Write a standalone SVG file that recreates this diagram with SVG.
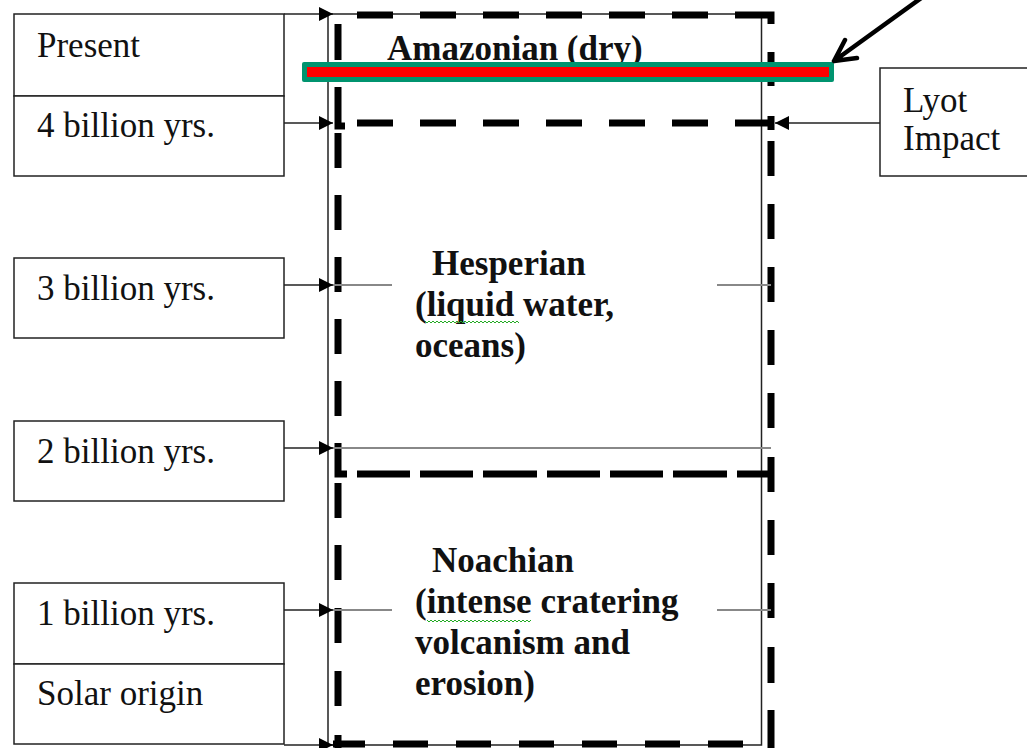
<svg xmlns="http://www.w3.org/2000/svg" width="1027" height="748" viewBox="0 0 1027 748">
<defs>
<style>
.box{fill:#fff;stroke:#222;stroke-width:1.5}
.t{font-family:'Liberation Serif','Times New Roman',serif;font-size:35px;fill:#111}
.b{font-family:'Liberation Serif','Times New Roman',serif;font-size:35px;font-weight:bold;fill:#111}
.thin{fill:none;stroke:#222;stroke-width:1.5}
.grey{fill:none;stroke:#888;stroke-width:2}
.era{fill:none;stroke:#000;stroke-width:7}
.conn{fill:none;stroke:#222;stroke-width:1.5}
.squig{fill:none;stroke:#2a2;stroke-width:1}
</style>
<marker id="ah" viewBox="0 0 14 14" refX="14" refY="7" markerWidth="14" markerHeight="14" markerUnits="userSpaceOnUse" orient="auto">
<path d="M0 0L14 7L0 14z" fill="#000"/>
</marker>
</defs>
<rect width="1027" height="748" fill="#fff"/>

<g id="frame">
<path class="thin" d="M328 14V745H761.5V14H328"/>
</g>

<g id="era-amazonian">
<path class="era" d="M357 15H393M420 15H456M483 15H519M546 15H582M609 15H645M672 15H708M735 15H771V24M338 24V60M338 87V126H345M771 52V86M771 116V130M357 123H393M420 123H456M483 123H519M546 123H582M609 123H645M672 123H708M735 123H771"/>
<text class="b" x="387" y="60">Amazonian (dry)</text>
</g>

<g id="era-hesperian">
<path class="era" d="M338 133V168M338 195V230M338 257V292M338 319V354M338 381V416M338 443V474H347M771 141V176M771 204V239M771 267V302M771 330V365M771 393V428M771 457V492M357 474H410M420 474H473M483 474H537M547 474H600M610 474H663M673 474H727M737 474H771"/>
<text class="b" x="432" y="275">Hesperian</text>
<text class="b" x="415" y="316">(liquid water,</text>
<text class="b" x="415" y="357">oceans)</text>
<path class="squig" d="M425 321l2 2 2-2 2 2 2-2 2 2 2-2 2 2 2-2 2 2 2-2 2 2 2-2 2 2 2-2 2 2 2-2 2 2 2-2 2 2 2-2 2 2 2-2 2 2 2-2 2 2 2-2 2 2 2-2 2 2 2-2 2 2 2-2 2 2 2-2 2 2 2-2 2 2 2-2 2 2 2-2 2 2 2-2 2 2 2-2 2 2 2-2 2 2"/>
</g>

<g id="era-noachian">
<path class="era" d="M338 483V518M338 545V580M338 608V643M338 671V706M338 735V748M771 520V555M771 583V618M771 647V683M771 710V748M333 744H365M393 744H428M456 744H491M519 744H554M582 744H617M645 744H680M708 744H743"/>
<text class="b" x="432" y="572">Noachian</text>
<text class="b" x="415" y="613">(intense cratering</text>
<text class="b" x="415" y="654">volcanism and</text>
<text class="b" x="415" y="695">erosion)</text>
<path class="squig" d="M427 620l2 2 2-2 2 2 2-2 2 2 2-2 2 2 2-2 2 2 2-2 2 2 2-2 2 2 2-2 2 2 2-2 2 2 2-2 2 2 2-2 2 2 2-2 2 2 2-2 2 2 2-2 2 2 2-2 2 2 2-2 2 2 2-2 2 2 2-2 2 2 2-2 2 2 2-2 2 2 2-2 2 2 2-2 2 2 2-2 2 2 2-2 2 2 2-2 2 2 2-2 2 2 2-2"/>
</g>

<g id="box-present">
<rect class="box" x="14" y="14" width="270" height="82"/>
<text class="t" x="37" y="57">Present</text>
</g>
<g id="box-4b">
<rect class="box" x="14" y="96" width="270" height="80"/>
<text class="t" x="37" y="137">4 billion yrs.</text>
</g>
<g id="box-3b">
<rect class="box" x="14" y="258" width="270" height="80"/>
<text class="t" x="37" y="300">3 billion yrs.</text>
</g>
<g id="box-2b">
<rect class="box" x="14" y="421" width="270" height="80"/>
<text class="t" x="37" y="463">2 billion yrs.</text>
</g>
<g id="box-1b">
<rect class="box" x="14" y="583" width="270" height="81"/>
<text class="t" x="37" y="625">1 billion yrs.</text>
</g>
<g id="box-solar">
<rect class="box" x="14" y="664" width="270" height="80"/>
<text class="t" x="37" y="705">Solar origin</text>
</g>
<g id="box-lyot">
<rect class="box" x="880" y="68" width="160" height="108"/>
<text class="t" x="903" y="112">Lyot</text>
<text class="t" x="903" y="150">Impact</text>
</g>

<g id="lyot-bar">
<rect x="302" y="62" width="532" height="20" rx="2" fill="#00946f"/>
<rect x="307" y="67" width="522" height="10" fill="#ff0000"/>
</g>

<g id="connectors">
<path class="grey" d="M330 285H392M717 285H771M330 448H771M330 610H392M717 610H771"/>
<path class="conn" marker-end="url(#ah)" d="M284 14H333"/>
<path class="conn" marker-end="url(#ah)" d="M284 123H333"/>
<path class="conn" marker-end="url(#ah)" d="M284 285H333"/>
<path class="conn" marker-end="url(#ah)" d="M284 448H333"/>
<path class="conn" marker-end="url(#ah)" d="M284 610H333"/>
<path class="conn" marker-end="url(#ah)" d="M284 745H333"/>
<path class="conn" marker-end="url(#ah)" d="M880 123H775"/>
<path fill="none" stroke="#000" stroke-width="4.5" stroke-linecap="round" stroke-linejoin="round" d="M924 -4L834 61M845 40L834 61L857 58"/>
</g>
</svg>
